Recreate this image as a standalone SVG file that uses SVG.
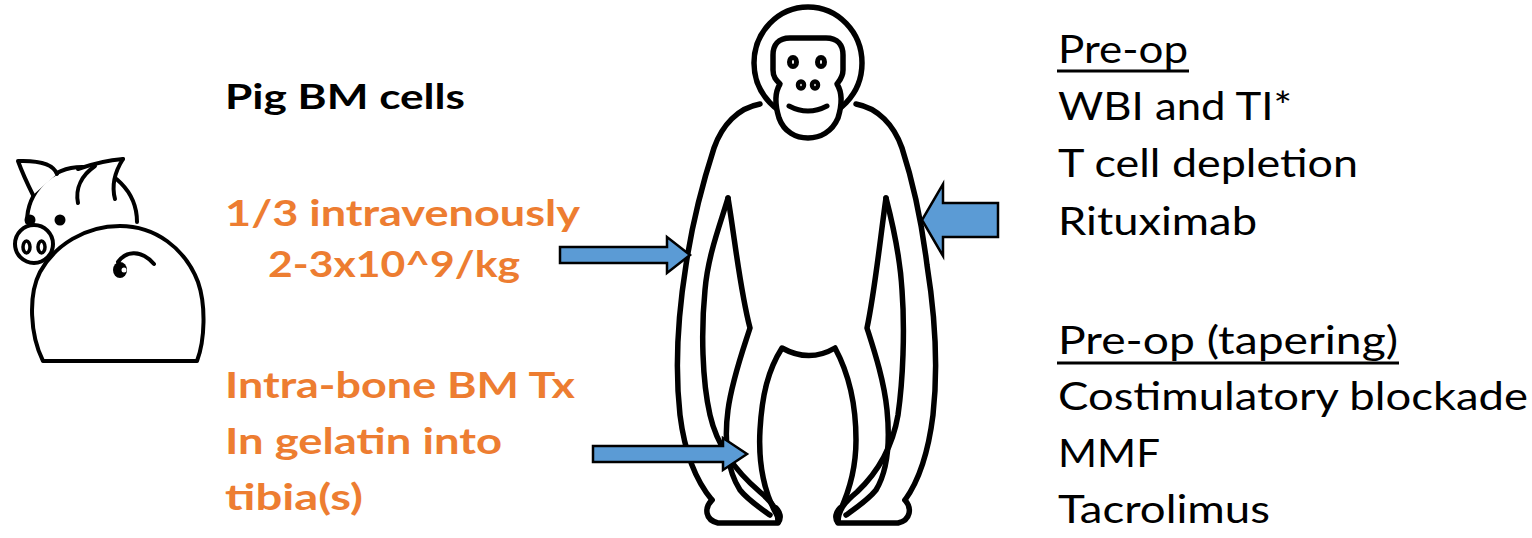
<svg xmlns="http://www.w3.org/2000/svg" width="1532" height="538" viewBox="0 0 1532 538">
  <style>
    .ink { fill: none; stroke: #000; stroke-linecap: round; stroke-linejoin: round; }
    .pig { stroke-width: 4; }
    .ape { stroke-width: 5.5; }
    .wf { fill: #fff; }
    .lbl { font-family: "Lato", "Liberation Sans", sans-serif; }
    .hd { font-size: 35px; font-weight: 700; fill: #000; }
    .or { font-size: 37px; font-weight: 700; fill: #ED7D31; }
    .rx { font-size: 39px; font-weight: 400; fill: #000; }
    .arrow { fill: #5B9BD5; stroke: #000; stroke-width: 2.5; stroke-linejoin: miter; }
  </style>

  <!-- donor pig, seen from behind -->
  <g id="pig">
    <path class="ink pig" d="M27,222 A55,55 0 0 1 137,222"/>
    <!-- left ear -->
    <path class="ink pig wf" d="M57,174 C54,166 45,160 18,161 C22,172 28,185 33,195"/>
    <!-- right ear -->
    <path fill="#fff" d="M80,170 C95,163 110,160 123,159 C117,170 111,185 115,199 L78,203 C75,190 76,180 80,170 Z"/>
    <path class="ink pig" d="M78,169 C95,163 110,160 123,159"/>
    <path class="ink pig" d="M95,166 C82,175 75,188 78,203"/>
    <path class="ink pig" d="M123,159 C116,170 111,184 115,199"/>
    <!-- eyes -->
    <circle cx="30" cy="220" r="5.5" fill="#000"/>
    <circle cx="60" cy="220" r="5.5" fill="#000"/>
    <!-- body -->
    <path class="ink pig wf" d="M43,361 L197,361 C205,340 206,305 198,282 C185,248 155,226 120,226 C85,226 55,245 40,272 C28,295 30,335 43,361 Z"/>
    <!-- tail -->
    <ellipse cx="120" cy="270" rx="7" ry="8" fill="#000"/>
    <circle cx="124" cy="270" r="2.5" fill="#fff"/>
    <path class="ink pig" d="M118,262 C125,252 140,248 154,264"/>
    <!-- snout -->
    <circle class="ink pig wf" cx="34" cy="244" r="19"/>
    <ellipse class="ink wf" stroke-width="3.5" cx="26.5" cy="247" rx="3.5" ry="6"/>
    <ellipse class="ink wf" stroke-width="3.5" cx="41.5" cy="247" rx="3.5" ry="6"/>
  </g>

  <!-- recipient primate -->
  <g id="primate">
    <ellipse class="ink ape wf" cx="808" cy="63" rx="54" ry="56"/>
    <!-- face -->
    <path class="ink ape wf" d="M790,38 L826,38 C838,38 843,45 843,55 L843,70 C843,77 840,80 837,84 C842,92 842,105 838,118 C832,132 820,138 808,138 C796,138 784,132 779,118 C775,105 775,92 780,84 C776,80 773,77 773,70 L773,55 C773,45 778,38 790,38 Z"/>
    <ellipse class="ink" stroke-width="5" cx="793" cy="62" rx="3.5" ry="4.5"/>
    <ellipse class="ink" stroke-width="5" cx="821" cy="62" rx="3.5" ry="4.5"/>
    <ellipse class="ink" stroke-width="4.5" cx="801" cy="85" rx="3" ry="3.5"/>
    <ellipse class="ink" stroke-width="4.5" cx="815" cy="85" rx="3" ry="3.5"/>
    <path class="ink" stroke-width="5" d="M789,106 Q808,116 827,106"/>

    <!-- left side -->
    <path class="ink ape" d="M760,104 C738,108 722,125 714,148 C702,185 692,225 686,265 C678,315 675,370 680,415 C685,455 697,482 712,500"/>
    <path class="ink ape" d="M712,500 C704,508 705,520 718,523 L778,523 C782,518 780,512 776,508"/>
    <path class="ink ape" d="M728,198 C720,225 708,255 705,290 C701,330 702,380 710,415 C718,450 740,475 760,492 C772,502 778,510 778,522"/>
    <path class="ink ape" d="M728,198 C735,240 740,290 750,328 C743,350 732,380 728,410 C724,440 727,470 740,490 C748,500 760,508 770,515"/>

    <!-- legs and crotch -->
    <path class="ink ape" d="M777,515 C765,495 758,465 760,430 C762,395 768,370 782,348 C800,358 818,358 835,348 C848,372 856,400 856,440 C856,470 848,495 838,515"/>

    <!-- right side -->
    <path class="ink ape" d="M856,104 C878,108 894,125 902,148 C914,185 922,225 927,265 C935,315 938,370 933,415 C928,455 918,482 905,500"/>
    <path class="ink ape" d="M905,500 C912,508 911,520 898,523 L838,523 C834,518 836,512 840,508"/>
    <path class="ink ape" d="M886,198 C893,225 900,255 902,290 C905,330 903,380 898,415 C892,450 875,475 857,492 C845,502 838,510 838,522"/>
    <path class="ink ape" d="M886,198 C880,240 875,290 867,328 C874,350 884,380 887,410 C890,440 888,470 876,490 C868,500 856,508 846,515"/>
  </g>

  <!-- block arrows -->
  <g id="connectors">
    <path class="arrow" d="M560,247 L667,247 L667,237 L690,255 L667,273 L667,263 L560,263 Z"/>
    <path class="arrow" d="M593,446 L723,446 L723,438 L747,454 L723,470 L723,462 L593,462 Z"/>
    <path class="arrow" d="M998,203 L943,203 L943,184 L922,220 L943,256 L943,237 L998,237 Z"/>
  </g>

  <!-- donor cell labels -->
  <g id="donor-labels" class="lbl">
    <text class="hd" x="225" y="109" textLength="240" lengthAdjust="spacingAndGlyphs">Pig BM cells</text>
    <text class="or" x="225" y="226" textLength="355" lengthAdjust="spacingAndGlyphs">1/3 intravenously</text>
    <text class="or" x="268" y="277" textLength="252" lengthAdjust="spacingAndGlyphs">2-3x10^9/kg</text>
    <text class="or" x="225" y="398" textLength="350" lengthAdjust="spacingAndGlyphs">Intra-bone BM Tx</text>
    <text class="or" x="225" y="454" textLength="277" lengthAdjust="spacingAndGlyphs">In gelatin into</text>
    <text class="or" x="225" y="510" textLength="138" lengthAdjust="spacingAndGlyphs">tibia(s)</text>
  </g>

  <!-- conditioning regimen -->
  <g id="regimen" class="lbl">
    <text class="rx" x="1058" y="63" textLength="130" lengthAdjust="spacingAndGlyphs">Pre-op</text>
    <line x1="1057" y1="71" x2="1189" y2="71" stroke="#000" stroke-width="3"/>
    <text class="rx" x="1058" y="120" textLength="234" lengthAdjust="spacingAndGlyphs">WBI and TI*</text>
    <text class="rx" x="1058" y="177" textLength="300" lengthAdjust="spacingAndGlyphs">T cell depletion</text>
    <text class="rx" x="1058" y="235" textLength="199" lengthAdjust="spacingAndGlyphs">Rituximab</text>
    <text class="rx" x="1058" y="354" textLength="340" lengthAdjust="spacingAndGlyphs">Pre-op (tapering)</text>
    <line x1="1057" y1="363" x2="1399" y2="363" stroke="#000" stroke-width="3"/>
    <text class="rx" x="1058" y="410" textLength="470" lengthAdjust="spacingAndGlyphs">Costimulatory blockade</text>
    <text class="rx" x="1058" y="467" textLength="102" lengthAdjust="spacingAndGlyphs">MMF</text>
    <text class="rx" x="1058" y="523" textLength="212" lengthAdjust="spacingAndGlyphs">Tacrolimus</text>
  </g>
</svg>
